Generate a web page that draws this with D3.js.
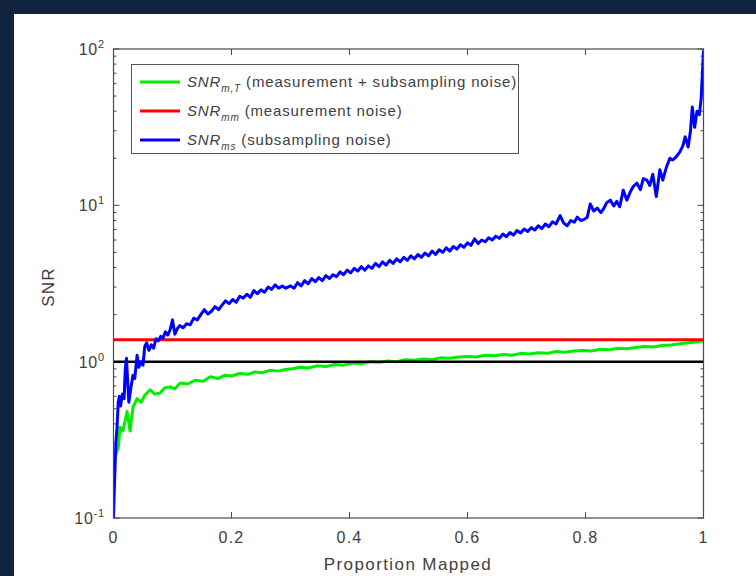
<!DOCTYPE html>
<html>
<head>
<meta charset="utf-8">
<script src="https://cdn.jsdelivr.net/npm/d3@7"></script>
<style>
    body { margin: 0; background: #10233f; }
    svg { display: block; }
    text { font-family: "Liberation Sans", Arial, sans-serif; fill: #404040; }
</style>
</head>
<body>
<svg id="chart" width="756" height="576"></svg>
<script>
// subsampling noise (blue)
var blueX = [0.000, 0.002, 0.004, 0.006, 0.008, 0.010, 0.012, 0.015, 0.018, 0.020, 0.022, 0.024, 0.026, 0.028,
    0.030, 0.033, 0.036, 0.040, 0.043, 0.046, 0.050, 0.053, 0.056, 0.060, 0.064, 0.068, 0.072, 0.076, 0.080,
    0.084, 0.088, 0.092, 0.096, 0.100, 0.104, 0.108, 0.112, 0.118, 0.124, 0.130, 0.136, 0.142, 0.148, 0.154,
    0.160, 0.166, 0.172, 0.178, 0.184, 0.190, 0.196, 0.202, 0.208, 0.214, 0.220, 0.226, 0.232, 0.238, 0.244,
    0.250, 0.256, 0.262, 0.268, 0.274, 0.280, 0.286, 0.292, 0.300, 0.306, 0.312, 0.318, 0.324, 0.330, 0.336,
    0.342, 0.348, 0.354, 0.360, 0.366, 0.372, 0.378, 0.384, 0.390, 0.396, 0.402, 0.408, 0.414, 0.420, 0.426,
    0.432, 0.438, 0.444, 0.450, 0.456, 0.462, 0.468, 0.474, 0.480, 0.486, 0.492, 0.498, 0.504, 0.510, 0.516,
    0.522, 0.528, 0.534, 0.540, 0.546, 0.552, 0.558, 0.564, 0.570, 0.576, 0.582, 0.588, 0.594, 0.600, 0.606,
    0.612, 0.618, 0.624, 0.630, 0.636, 0.642, 0.648, 0.654, 0.660, 0.666, 0.672, 0.678, 0.684, 0.690, 0.696,
    0.702, 0.708, 0.714, 0.720, 0.726, 0.732, 0.738, 0.744, 0.750, 0.757, 0.763, 0.769, 0.775, 0.781, 0.786,
    0.792, 0.797, 0.803, 0.808, 0.814, 0.820, 0.826, 0.830, 0.836, 0.842, 0.848, 0.853, 0.858, 0.864, 0.870,
    0.876, 0.881, 0.887, 0.893, 0.898, 0.904, 0.909, 0.914, 0.920, 0.926, 0.931, 0.937, 0.943, 0.948, 0.954,
    0.960, 0.965, 0.969, 0.974, 0.978, 0.981, 0.985, 0.989, 0.993, 0.996, 1.000];
var blueY = [0.10, 0.18, 0.30, 0.38, 0.55, 0.60, 0.52, 0.62, 0.58, 0.90, 1.05, 0.75, 0.55, 0.62,
    0.70, 0.82, 0.78, 1.10, 0.92, 1.00, 0.95, 1.25, 1.32, 1.18, 1.28, 1.22, 1.40, 1.36, 1.45,
    1.42, 1.55, 1.48, 1.60, 1.85, 1.50, 1.62, 1.70, 1.65, 1.75, 1.72, 1.90, 1.85, 2.00, 2.15,
    2.02, 2.10, 2.25, 2.15, 2.30, 2.45, 2.35, 2.50, 2.40, 2.62, 2.55, 2.70, 2.58, 2.85, 2.72,
    2.88, 2.78, 3.00, 2.90, 3.10, 2.95, 3.05, 2.95, 3.05, 2.95, 3.20, 3.05, 3.30, 3.15, 3.40,
    3.25, 3.45, 3.30, 3.55, 3.40, 3.60, 3.50, 3.75, 3.60, 3.85, 3.70, 3.95, 3.80, 4.05, 3.85,
    4.10, 3.95, 4.25, 4.05, 4.35, 4.15, 4.45, 4.25, 4.55, 4.35, 4.65, 4.45, 4.75, 4.55, 4.85,
    4.65, 4.95, 4.75, 5.10, 4.85, 5.20, 5.00, 5.35, 5.10, 5.45, 5.25, 5.60, 5.40, 5.75, 5.55,
    6.10, 5.70, 6.00, 5.85, 6.20, 6.00, 6.35, 6.15, 6.55, 6.30, 6.70, 6.45, 6.90, 6.65, 7.05,
    6.80, 7.20, 6.95, 7.40, 7.10, 7.60, 7.30, 7.85, 7.60, 8.60, 7.70, 7.40, 8.00, 7.80, 8.40,
    8.00, 8.10, 8.40, 10.2, 9.20, 9.60, 9.00, 9.40, 10.4, 10.8, 9.90, 10.6, 9.80, 12.5, 10.8,
    12.2, 13.2, 13.9, 12.6, 14.8, 14.5, 13.4, 15.8, 11.4, 16.9, 14.5, 17.5, 20.0, 19.5, 20.5,
    22.0, 24.0, 27.4, 23.6, 30.0, 42.6, 31.6, 40.0, 38.0, 48.0, 98.0];

// measurement + subsampling noise (green)
var greenX = [0.003, 0.008, 0.011, 0.016, 0.023, 0.028, 0.033, 0.040, 0.047, 0.053, 0.062, 0.070, 0.079,
    0.087, 0.096, 0.104, 0.113, 0.126, 0.138, 0.152, 0.164, 0.177, 0.189, 0.200, 0.214, 0.228, 0.240,
    0.252, 0.265, 0.279, 0.291, 0.303, 0.316, 0.330, 0.345, 0.360, 0.375, 0.390, 0.405, 0.420, 0.435,
    0.450, 0.465, 0.480, 0.495, 0.510, 0.525, 0.540, 0.555, 0.570, 0.585, 0.600, 0.615, 0.630, 0.645,
    0.660, 0.675, 0.690, 0.705, 0.720, 0.735, 0.750, 0.765, 0.780, 0.795, 0.810, 0.825, 0.840, 0.855,
    0.870, 0.885, 0.900, 0.915, 0.930, 0.945, 0.960, 0.975, 0.990, 1.000];
var greenY = [0.25, 0.28, 0.38, 0.36, 0.48, 0.36, 0.51, 0.58, 0.55, 0.61, 0.66, 0.62, 0.63,
    0.68, 0.69, 0.67, 0.73, 0.72, 0.76, 0.75, 0.80, 0.78, 0.82, 0.81, 0.84, 0.83, 0.86,
    0.85, 0.88, 0.87, 0.89, 0.90, 0.92, 0.91, 0.94, 0.93, 0.96, 0.95, 0.98, 0.97, 1.00,
    0.99, 1.01, 1.00, 1.03, 1.02, 1.04, 1.03, 1.06, 1.05, 1.07, 1.08, 1.07, 1.10, 1.09,
    1.11, 1.10, 1.13, 1.12, 1.14, 1.13, 1.16, 1.15, 1.17, 1.18, 1.17, 1.20, 1.19, 1.22,
    1.21, 1.23, 1.25, 1.24, 1.27, 1.28, 1.30, 1.32, 1.34, 1.36];

// measurement noise (red) is flat, black is the SNR = 1 reference
var redLevel = 1.38;
var unityLevel = 1;

var xTicks = [0, 0.2, 0.4, 0.6, 0.8, 1];
var xTickLabels = ["0", "0.2", "0.4", "0.6", "0.8", "1"];
var yTicks = [0.1, 1, 10, 100];
var yTickExps = ["-1", "0", "1", "2"];
var legendNames = ["SNR", "SNR", "SNR"];
var legendSubs = ["m,T", "mm", "ms"];
var legendNotes = [" (measurement + subsampling noise)", " (measurement noise)", " (subsampling noise)"];
var legendColors = ["#00ee00", "#ff0000", "#0000ff"];

var svg = d3.select("#chart");
var margin = { left: 113.5, top: 49, right: 703.5, bottom: 518 };

svg.append("rect")
    .attr("x", 14).attr("y", 14)
    .attr("width", 742).attr("height", 562)
    .attr("fill", "#fff");

var x = d3.scaleLinear().domain([0, 1]).range([margin.left, margin.right]);
var y = d3.scaleLog().domain([0.1, 100]).range([margin.bottom, margin.top]);

svg.append("defs").append("clipPath").attr("id", "plotclip")
    .append("rect")
    .attr("x", margin.left).attr("y", margin.top - 1)
    .attr("width", margin.right - margin.left).attr("height", margin.bottom - margin.top + 1);

var axisColor = "#4a4a4a";

// minor ticks on the log axis
var minor = [];
[0.1, 1, 10].forEach(function (dec) {
    for (var k = 2; k <= 9; k++) minor.push(dec * k);
});

var ticks = svg.append("g").attr("stroke", axisColor).attr("stroke-width", 1);
minor.forEach(function (v) {
    ticks.append("line").attr("x1", margin.left).attr("x2", margin.left + 3)
        .attr("y1", y(v)).attr("y2", y(v));
    ticks.append("line").attr("x1", margin.right).attr("x2", margin.right - 3)
        .attr("y1", y(v)).attr("y2", y(v));
});
yTicks.forEach(function (v) {
    ticks.append("line").attr("x1", margin.left).attr("x2", margin.left + 6)
        .attr("y1", y(v)).attr("y2", y(v));
    ticks.append("line").attr("x1", margin.right).attr("x2", margin.right - 6)
        .attr("y1", y(v)).attr("y2", y(v));
});
xTicks.forEach(function (v) {
    ticks.append("line").attr("x1", x(v)).attr("x2", x(v))
        .attr("y1", margin.bottom).attr("y2", margin.bottom - 6);
    ticks.append("line").attr("x1", x(v)).attr("x2", x(v))
        .attr("y1", margin.top).attr("y2", margin.top + 6);
});

// data lines
var line = d3.line()
    .x(function (d) { return x(d[0]); })
    .y(function (d) { return y(d[1]); });

var plot = svg.append("g").attr("clip-path", "url(#plotclip)");

plot.append("path")
    .datum(greenX.map(function (v, i) { return [v, greenY[i]]; }))
    .attr("d", line)
    .attr("fill", "none").attr("stroke", legendColors[0]).attr("stroke-width", 3)
    .attr("stroke-linejoin", "round");

plot.append("path")
    .datum([[0, redLevel], [1, redLevel]])
    .attr("d", line)
    .attr("fill", "none").attr("stroke", legendColors[1]).attr("stroke-width", 3);

plot.append("path")
    .datum([[0, unityLevel], [1, unityLevel]])
    .attr("d", line)
    .attr("fill", "none").attr("stroke", "#000").attr("stroke-width", 2.5);

plot.append("path")
    .datum(blueX.map(function (v, i) { return [v, blueY[i]]; }))
    .attr("d", line)
    .attr("fill", "none").attr("stroke", legendColors[2]).attr("stroke-width", 3)
    .attr("stroke-linejoin", "round");

// axes box
svg.append("rect")
    .attr("x", margin.left).attr("y", margin.top)
    .attr("width", margin.right - margin.left).attr("height", margin.bottom - margin.top)
    .attr("fill", "none").attr("stroke", axisColor).attr("stroke-width", 1.2);

// tick labels
svg.selectAll("text.xtick")
    .data(xTicks)
    .enter().append("text")
    .attr("class", "xtick")
    .attr("x", function (d) { return x(d); })
    .attr("y", 543)
    .attr("text-anchor", "middle")
    .attr("font-size", 16)
    .attr("letter-spacing", 1.2)
    .text(function (d, i) { return xTickLabels[i]; });

var ylab = svg.selectAll("text.ytick")
    .data(yTicks)
    .enter().append("text")
    .attr("class", "ytick")
    .attr("x", 105)
    .attr("y", function (d) { return y(d) + 6; })
    .attr("text-anchor", "end")
    .attr("font-size", 16)
    .attr("letter-spacing", 0.8);
ylab.append("tspan").text("10");
ylab.append("tspan")
    .attr("dy", -7)
    .attr("font-size", 11)
    .text(function (d, i) { return yTickExps[i]; });

svg.append("text")
    .attr("x", 408).attr("y", 570)
    .attr("text-anchor", "middle")
    .attr("font-size", 17)
    .attr("letter-spacing", 1.4)
    .text("Proportion Mapped");

svg.append("text")
    .attr("transform", "translate(54," + y(3) + ")rotate(-90)")
    .attr("text-anchor", "middle")
    .attr("font-size", 17)
    .attr("letter-spacing", 1.2)
    .text("SNR");

// legend
var legend = svg.append("g");
legend.append("rect")
    .attr("x", 131.5).attr("y", 64.5)
    .attr("width", 387).attr("height", 89)
    .attr("fill", "#fff").attr("stroke", "#555").attr("stroke-width", 1);

var item = legend.selectAll("g.item")
    .data(legendNames)
    .enter().append("g")
    .attr("class", "item")
    .attr("transform", function (d, i) { return "translate(0," + (82 + i * 29) + ")"; });

item.append("line")
    .attr("x1", 140).attr("x2", 180)
    .attr("stroke", function (d, i) { return legendColors[i]; })
    .attr("stroke-width", 3);

var label = item.append("text")
    .attr("x", 187).attr("y", 5)
    .attr("font-size", 15)
    .attr("letter-spacing", 0.85);
label.append("tspan").attr("font-style", "italic").text(function (d) { return d; });
label.append("tspan")
    .attr("dy", 5).attr("font-size", 10).attr("font-style", "italic")
    .text(function (d, i) { return legendSubs[i]; });
label.append("tspan")
    .attr("dy", -5)
    .text(function (d, i) { return legendNotes[i]; });
</script>
</body>
</html>
